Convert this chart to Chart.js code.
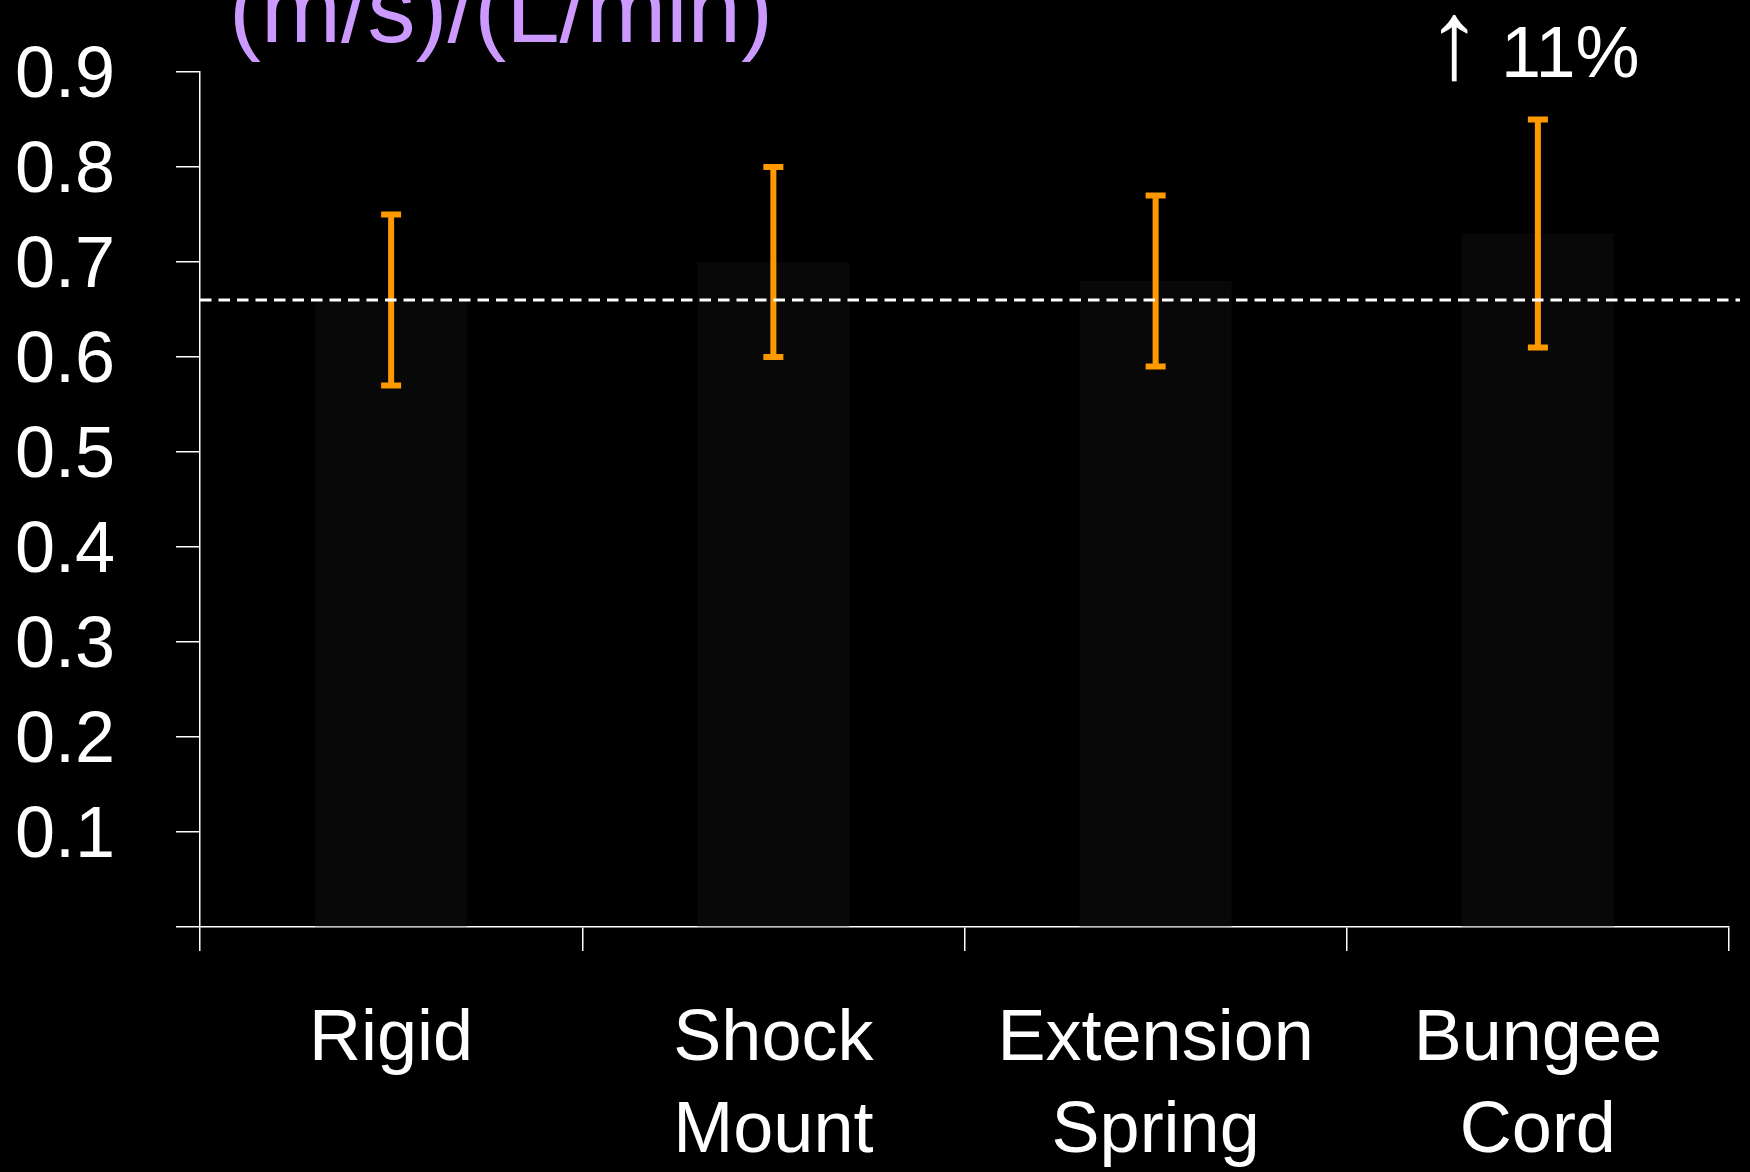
<!DOCTYPE html>
<html>
<head>
<meta charset="utf-8">
<script src="https://cdn.jsdelivr.net/npm/chart.js@4/dist/chart.umd.min.js"></script>
<style>
  html, body { margin: 0; padding: 0; background: #000; }
  canvas { display: block; }
</style>
</head>
<body>
<canvas id="chart" width="1750" height="1172"></canvas>
<script>
// Mount types compared
const categories = [['Rigid'], ['Shock', 'Mount'], ['Extension', 'Spring'], ['Bungee', 'Cord']];
// Mean sensitivity, (m/s)/(L/min)
const meanRatio = [0.66, 0.70, 0.68, 0.73];
// Error bar extents
const errLow = [0.57, 0.60, 0.59, 0.61];
const errHigh = [0.75, 0.80, 0.77, 0.85];
// Value axis
const yMin = 0;
const yMax = 0.9;
const yStep = 0.1;
// Dashed reference at the rigid-mount mean
const referenceLevel = meanRatio[0];
const unitsLabel = '(m/s)/(L/min)';
const changeArrow = '\u2191';
const changeText = '11%';
const changeIndex = 3;

const FONT = "'Liberation Sans', Arial, Helvetica, sans-serif";

const backdrop = {
  id: 'backdrop',
  beforeDraw(chart) {
    const { ctx, width, height } = chart;
    ctx.save();
    ctx.fillStyle = '#000';
    ctx.fillRect(0, 0, width, height);
    ctx.restore();
  }
};

const errorBars = {
  id: 'errorBars',
  afterDatasetsDraw(chart) {
    const { ctx, scales: { y } } = chart;
    const meta = chart.getDatasetMeta(0);
    ctx.save();
    ctx.strokeStyle = '#FF9900';
    ctx.lineWidth = 6;
    ctx.lineCap = 'butt';
    meta.data.forEach((bar, i) => {
      const x = bar.x;
      const yHi = y.getPixelForValue(errHigh[i]);
      const yLo = y.getPixelForValue(errLow[i]);
      const half = 10;
      ctx.beginPath();
      ctx.moveTo(x, yHi);
      ctx.lineTo(x, yLo);
      ctx.moveTo(x - half, yHi);
      ctx.lineTo(x + half, yHi);
      ctx.moveTo(x - half, yLo);
      ctx.lineTo(x + half, yLo);
      ctx.stroke();
    });
    // dashed reference line, drawn over the error bars
    const yRef = y.getPixelForValue(referenceLevel);
    ctx.strokeStyle = '#FFFFFF';
    ctx.lineWidth = 3;
    ctx.setLineDash([11.5, 7]);
    ctx.beginPath();
    ctx.moveTo(chart.chartArea.left, yRef);
    ctx.lineTo(chart.width - 10, yRef);
    ctx.stroke();
    ctx.restore();
  }
};

const annotations = {
  id: 'annotations',
  afterDraw(chart) {
    const { ctx, scales: { x } } = chart;
    const cx = x.getPixelForValue(changeIndex);
    ctx.save();
    ctx.textBaseline = 'alphabetic';
    ctx.textAlign = 'left';
    ctx.fillStyle = '#CC99FF';
    ctx.font = '96px ' + FONT;
    ctx.fillText(unitsLabel, 229, 42);
    ctx.fillStyle = '#FFFFFF';
    ctx.font = '112px ' + FONT;
    ctx.textAlign = 'center';
    ctx.fillText(changeArrow, cx - 84, 78);
    ctx.font = '72px ' + FONT;
    ctx.textAlign = 'left';
    ctx.fillText(changeText, cx - 37, 77);
    ctx.restore();
  }
};

new Chart(document.getElementById('chart'), {
  type: 'bar',
  data: {
    labels: categories,
    datasets: [{
      data: meanRatio,
      backgroundColor: '#080808',
      borderWidth: 0,
      barPercentage: 0.398,
      categoryPercentage: 1.0
    }]
  },
  options: {
    responsive: false,
    animation: false,
    devicePixelRatio: 1,
    layout: { padding: { top: 72, right: 21, left: 0, bottom: 0 } },
    plugins: {
      legend: { display: false },
      tooltip: { enabled: false },
      title: { display: false }
    },
    scales: {
      x: {
        offset: true,
        border: { display: true, color: '#FFFFFF', width: 1.5 },
        grid: {
          display: true,
          offset: true,
          drawOnChartArea: false,
          drawTicks: true,
          tickLength: 24,
          color: '#FFFFFF',
          lineWidth: 1.5
        },
        ticks: {
          color: '#FFFFFF',
          font: { family: FONT, size: 72, lineHeight: 1.28 },
          padding: 43,
          maxRotation: 0,
          autoSkip: false
        },
        afterFit(scale) {
          scale.height = 245;
          scale.paddingLeft = 0;
          scale.paddingRight = 0;
        }
      },
      y: {
        min: yMin,
        max: yMax,
        border: { display: true, color: '#FFFFFF', width: 1.5 },
        grid: {
          display: true,
          drawOnChartArea: false,
          drawTicks: true,
          tickLength: 24,
          color: '#FFFFFF',
          lineWidth: 1.5
        },
        ticks: {
          stepSize: yStep,
          color: '#FFFFFF',
          font: { family: FONT, size: 72 },
          padding: 61,
          labelOffset: 5,
          callback(value) {
            return Math.abs(value) < 1e-9 ? '' : Number(value).toFixed(1);
          }
        },
        afterFit(scale) {
          scale.width = 200;
          scale.paddingTop = 0;
          scale.paddingBottom = 0;
        }
      }
    }
  },
  plugins: [backdrop, errorBars, annotations]
});
</script>
</body>
</html>
